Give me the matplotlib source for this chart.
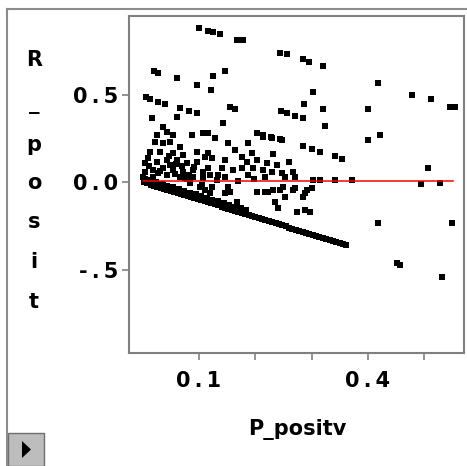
import numpy as np
import matplotlib.pyplot as plt
from matplotlib.patches import Rectangle, Polygon
from matplotlib.lines import Line2D

## scattered residuals (P_positv, R_posit)
p_scatter = [0.100, 0.116, 0.125, 0.137, 0.167, 0.178, 0.244, 0.256, 0.285, 0.295,
             0.320, 0.020, 0.027, 0.061, 0.096, 0.125, 0.146, 0.121, 0.302, 0.287,
             0.320, 0.324, 0.006, 0.013, 0.027, 0.040, 0.066, 0.082, 0.096, 0.155,
             0.164, 0.017, 0.143, 0.246, 0.256, 0.271, 0.285,
             0.418, 0.400, 0.478, 0.512, 0.546, 0.555, 0.400, 0.421, 0.507, 0.494,
             0.528, 0.418, 0.549, 0.452, 0.457, 0.532,
             0.285, 0.301, 0.315, 0.342, 0.354, 0.302, 0.315, 0.342, 0.372, 0.203,
             0.214, 0.228, 0.244, 0.231, 0.260]
r_scatter = [0.880, 0.863, 0.857, 0.846, 0.811, 0.811, 0.737, 0.731, 0.703, 0.686,
             0.663, 0.634, 0.623, 0.594, 0.554, 0.606, 0.634, 0.526, 0.514, 0.446,
             0.417, 0.320, 0.486, 0.474, 0.457, 0.446, 0.423, 0.406, 0.394, 0.429,
             0.417, 0.366, 0.337, 0.406, 0.394, 0.377, 0.366,
             0.566, 0.417, 0.497, 0.474, 0.429, 0.429, 0.240, 0.269, 0.080, -0.011,
             -0.006, -0.234, -0.234, -0.463, -0.474, -0.543,
             0.206, 0.189, 0.171, 0.149, 0.131, 0.011, 0.011, 0.011, 0.011, 0.280,
             0.269, 0.257, 0.246, 0.160, 0.114]

## dense cluster around zero
p_cluster = [0.036, 0.043, 0.025, 0.054, 0.088, 0.061, 0.107, 0.022, 0.036, 0.048,
             0.066, 0.013, 0.031, 0.054, 0.072, 0.096, 0.004, 0.025, 0.043, 0.061,
             0.079, 0.096, 0.111, 0.004, 0.018, 0.036, 0.054, 0.072, 0.089, 0.107,
             0.001, 0.018, 0.043, 0.066, 0.089, 0.107, 0.036, 0.084, 0.105,
             0.116, 0.128, 0.152, 0.164, 0.187, 0.214, 0.230, 0.116, 0.123, 0.146,
             0.176, 0.194, 0.185, 0.203, 0.221, 0.239, 0.116, 0.141, 0.160, 0.176,
             0.196, 0.214, 0.230, 0.247, 0.120, 0.134, 0.146, 0.187, 0.217, 0.123,
             0.152, 0.223, 0.244, 0.120, 0.146,
             0.247, 0.267, 0.253, 0.271, 0.249, 0.267, 0.292, 0.301, 0.285, 0.253,
             0.203, 0.217, 0.231, 0.271, 0.288, 0.167, 0.235, 0.240, 0.274, 0.288,
             0.297, 0.102, 0.111, 0.155, 0.012, 0.058, 0.078, 0.132, 0.170, 0.198,
             0.028, 0.049, 0.070, 0.092, 0.010, 0.031, 0.059, 0.083, 0.047, 0.075]
r_cluster = [0.314, 0.286, 0.269, 0.269, 0.269, 0.371, 0.280, 0.229, 0.223, 0.229,
             0.200, 0.171, 0.171, 0.166, 0.154, 0.171, 0.109, 0.114, 0.126, 0.126,
             0.109, 0.114, 0.143, 0.057, 0.069, 0.080, 0.069, 0.057, 0.069, 0.057,
             0.029, 0.029, 0.040, 0.029, 0.029, 0.023, -0.017, -0.006, -0.017,
             0.280, 0.251, 0.223, 0.183, 0.223, 0.257, 0.251, 0.166, 0.137, 0.126,
             0.143, 0.166, 0.114, 0.126, 0.109, 0.097, 0.080, 0.080, 0.069, 0.080,
             0.080, 0.069, 0.057, 0.051, 0.040, 0.040, 0.029, 0.040, 0.029, -0.029,
             -0.029, -0.057, -0.046, -0.063, -0.063,
             0.240, 0.057, 0.029, 0.029, -0.029, -0.046, -0.046, -0.034, -0.086, -0.086,
             -0.057, -0.057, -0.046, -0.034, -0.063, -0.114, -0.114, -0.149, -0.171, -0.160,
             -0.171, -0.029, -0.046, -0.057, 0.091, 0.046, 0.017, 0.011, 0.006, 0.017,
             0.049, 0.097, 0.091, 0.086, 0.137, 0.063, 0.103, 0.040, 0.151, 0.023]

## lower band of residuals (observations with zero response)
p_band = [0.002, 0.008, 0.014, 0.020, 0.026, 0.032, 0.038, 0.044, 0.050, 0.056,
          0.062, 0.068, 0.074, 0.080, 0.086, 0.092, 0.098, 0.104, 0.110, 0.116,
          0.122, 0.128, 0.134, 0.140, 0.146, 0.152, 0.158, 0.164, 0.170, 0.176,
          0.182, 0.188, 0.194, 0.200, 0.206, 0.212, 0.218, 0.224, 0.230, 0.236,
          0.242, 0.248, 0.254, 0.260, 0.266, 0.272, 0.278, 0.284, 0.290, 0.296,
          0.302, 0.308, 0.314, 0.320, 0.326, 0.332, 0.338, 0.344, 0.350, 0.356,
          0.362,
          0.004, 0.014, 0.024, 0.034, 0.044, 0.054, 0.064, 0.074, 0.084, 0.094,
          0.104, 0.114, 0.124, 0.134, 0.144, 0.154, 0.164, 0.174, 0.184]
r_band = [-0.002, -0.008, -0.014, -0.020, -0.026, -0.032, -0.038, -0.044, -0.050, -0.056,
          -0.062, -0.068, -0.074, -0.080, -0.086, -0.092, -0.098, -0.104, -0.110, -0.116,
          -0.122, -0.128, -0.134, -0.140, -0.146, -0.152, -0.158, -0.164, -0.170, -0.176,
          -0.182, -0.188, -0.194, -0.200, -0.206, -0.212, -0.218, -0.224, -0.230, -0.236,
          -0.242, -0.248, -0.254, -0.260, -0.266, -0.272, -0.278, -0.284, -0.290, -0.296,
          -0.302, -0.308, -0.314, -0.320, -0.326, -0.332, -0.338, -0.344, -0.350, -0.356,
          -0.362,
          0.019, 0.009, -0.001, -0.011, -0.021, -0.031, -0.041, -0.051, -0.061, -0.071,
          -0.081, -0.091, -0.101, -0.111, -0.121, -0.131, -0.141, -0.151, -0.161]

## reference line
line_p = [0.001, 0.551]
line_r = [0.008, 0.008]

x_ticks = [0.1, 0.2, 0.3, 0.4, 0.5]
x_labels = ["0\u2009.\u20091", "", "", "0\u2009.\u20094", ""]
y_ticks = [0.5, 0.0, -0.5]
y_labels = ["0\u2009.\u20095", "0\u2009.\u20090", "-\u2009.\u20095"]

W, H = 467, 466
fig = plt.figure(figsize=(W / 100, H / 100), dpi=100)
ax = fig.add_axes([129 / W, 1 - 353 / H, 335 / W, 337 / H])

pp = np.array(p_scatter + p_cluster + p_band)
rr = np.array(r_scatter + r_cluster + r_band)
ax.scatter(pp, rr, marker="s", s=18, c="black", linewidths=0, zorder=2)
ax.plot(line_p, line_r, color="red", lw=1.1, zorder=3)

ax.set_xlim(-0.0243, 0.5707)
ax.set_ylim(-0.977, 0.949)

font = dict(family="DejaVu Sans", weight="bold", size=15)
ax.set_xticks(x_ticks)
ax.set_xticklabels(x_labels, fontdict=font)
ax.set_yticks(y_ticks)
ax.set_yticklabels(y_labels, fontdict=font)
ax.tick_params(length=5, width=1.2, color="#808080", pad=3)
ax.tick_params(axis="x", pad=8)
for s in ax.spines.values():
    s.set_color("#808080")
    s.set_linewidth(1.5)

## axis labels
fig.text(297 / W, 1 - 430 / H, "P_positv", ha="center", va="center", **font)
ylab = "R_posit"
ylab_y = [60, 104, 145, 183, 222, 262, 302]
for ch, y in zip(ylab, ylab_y):
    fig.text(34 / W, 1 - y / H, ch, ha="center", va="center", **font)

## outer frame and the little button
fig.add_artist(Line2D([7 / W, 7 / W], [0, 1 - 9 / H], color="#8c8c8c", lw=1.5))
fig.add_artist(Line2D([7 / W, 1], [1 - 9 / H, 1 - 9 / H], color="#8c8c8c", lw=1.5))
fig.add_artist(Rectangle((8 / W, 0), 36 / W, 33 / H, facecolor="#bdbdbd",
                         edgecolor="#6e6e6e", lw=1))
fig.add_artist(Polygon([(22 / W, 1 - 441 / H), (22 / W, 1 - 458 / H), (31 / W, 1 - 449.5 / H)],
                       closed=True, facecolor="black", edgecolor="none"))

fig.savefig("out.png", dpi=100)
